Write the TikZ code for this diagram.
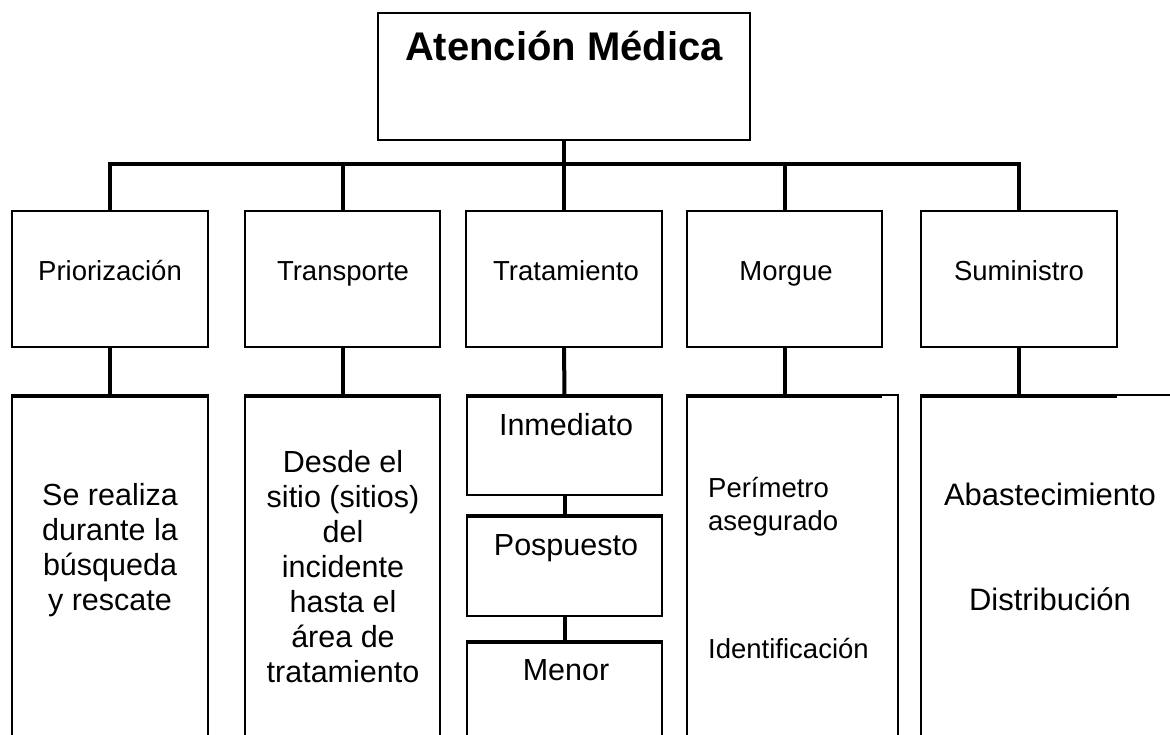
\documentclass[tikz,border=0pt]{standalone}
\usepackage{fontspec}
\setmainfont{Liberation Sans}
\begin{document}
\begin{tikzpicture}[x=1pt,y=-1pt,
  box/.style={draw=black,line width=1.6pt,rectangle,inner sep=0pt,outer sep=0pt},
  conn/.style={draw=black,line width=4pt},
  lbl/.style={inner sep=0pt,anchor=base,font=\fontsize{27.5}{33}\selectfont},
  big/.style={inner sep=0pt,anchor=base,align=center,font=\fontsize{30.5}{35}\selectfont},
  title/.style={inner sep=0pt,anchor=base,font=\fontsize{40}{46}\selectfont\bfseries}]
\useasboundingbox (0,0) rectangle (1170,734);
\fill[white] (0,0) rectangle (1170,734);
\clip (0,0) rectangle (1170,734);
% top box
\node[box,minimum width=372pt,minimum height=127pt] (top) at (564,76.5) {};
\node[title] (ttl) at (564,60) {Atención Médica};
% level 2
\node[box,minimum width=196pt,minimum height=136pt] (prio) at (110,279) {};
\node[box,minimum width=195pt,minimum height=136pt] (trans) at (342.5,279) {};
\node[box,minimum width=196pt,minimum height=136pt] (trat) at (564,279) {};
\node[box,minimum width=195pt,minimum height=136pt] (morg) at (784.5,279) {};
\node[box,minimum width=196pt,minimum height=136pt] (sumi) at (1019,279) {};
\node[lbl] (tprio) at (110,280) {Priorización};
\node[lbl] (ttrans) at (343,280) {Transporte};
\node[lbl] (ttrat) at (566,280) {Tratamiento};
\node[lbl] (tmorg) at (786,280) {Morgue};
\node[lbl] (tsumi) at (1019,280) {Suministro};
% level 3
\node[box,minimum width=196pt,minimum height=380pt] (prio3) at (110,585) {};
\node[box,minimum width=195pt,minimum height=380pt] (trans3) at (342.5,585) {};
\node[box,minimum width=211pt,minimum height=380pt] (morg3) at (792.5,585) {};
\node[box,minimum width=280pt,minimum height=380pt] (sumi3) at (1061,585) {};
\node[box,minimum width=195pt,minimum height=100pt] (inm) at (564.5,445) {};
\node[box,minimum width=195pt,minimum height=101pt] (posp) at (564.5,565.5) {};
\node[box,minimum width=195pt,minimum height=200pt] (menor) at (564.5,741) {};
% texts level 3 (base = baseline of last line)
\node[big] (tx1) at (110,610) {Se realiza\\durante la\\búsqueda\\y rescate};
\node[big] (tx2) at (343,682) {Desde el\\sitio (sitios)\\del\\incidente\\hasta el\\área de\\tratamiento};
\node[big] (tinm) at (566,435) {Inmediato};
\node[big] (tposp) at (566,555) {Pospuesto};
\node[big] (tmen) at (566,680) {Menor};
\node[lbl,anchor=base west,align=left] (tper) at (708,530) {Perímetro\\asegurado};
\node[lbl,anchor=base west] (tide) at (708,658) {Identificación};
\node[inner sep=0pt,anchor=base,font=\fontsize{31}{35}\selectfont] (tabas) at (1050,505) {Abastecimiento};
\node[inner sep=0pt,anchor=base,font=\fontsize{31}{35}\selectfont] (tdist) at (1050,610) {Distribución};
% connectors
\coordinate (bus) at (564,164);
\draw[conn] (prio.north) -- (prio.north |- bus) -- (sumi.north |- bus) -- (sumi.north);
\draw[conn] (top.south) -- (top.south |- bus);
\draw[conn] (trans.north) -- (trans.north |- bus);
\draw[conn] (trat.north) -- (trat.north |- bus);
\draw[conn] (morg.north) -- (morg.north |- bus);
\draw[conn] (prio.south) -- (prio.south |- prio3.north);
\draw[conn] (trans.south) -- (trans.south |- trans3.north);
\draw[conn] (trat.south) -- (inm.north);
\draw[conn] (morg.south) -- (morg.south |- morg3.north);
\draw[conn] (sumi.south) -- (sumi.south |- sumi3.north);
\draw[conn] (inm.south) -- (posp.north);
\draw[conn] (posp.south) -- (menor.north);
% thick bars on top of level-3 boxes
\draw[conn] ([yshift=-1pt]prio3.north west) -- ([yshift=-1pt]prio3.north east);
\draw[conn] ([yshift=-1pt]trans3.north west) -- ([yshift=-1pt]trans3.north east);
\draw[conn] ([yshift=-1pt]inm.north west) -- ([yshift=-1pt]inm.north east);
\draw[conn] ([yshift=-1pt]posp.north west) -- ([yshift=-1pt]posp.north east);
\draw[conn] ([yshift=-1pt]menor.north west) -- ([yshift=-1pt]menor.north east);
\draw[conn] ([yshift=-1pt]morg3.north west) -- ([yshift=-1pt]morg3.north west -| morg.east);
\draw[conn] ([yshift=-1pt]sumi3.north west) -- ([yshift=-1pt]sumi3.north west -| sumi.east);
\end{tikzpicture}
\end{document}
